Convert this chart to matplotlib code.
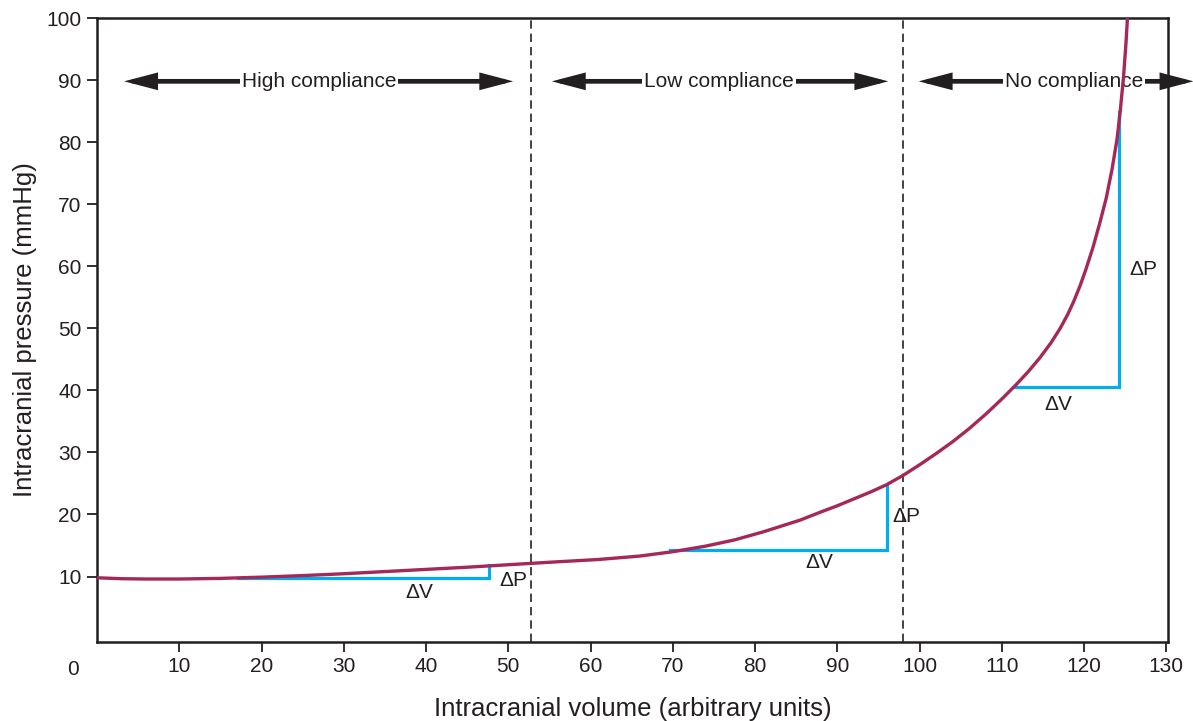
import matplotlib.pyplot as plt

plt.rcParams['font.family'] = ['Liberation Sans', 'DejaVu Sans']

# pressure-volume curve
vol = [0, 3, 6, 10, 15, 20, 25, 30, 35, 40, 45, 50, 55, 61, 66, 70, 74, 77.5, 81, 85.5,
       88, 90, 92, 94, 96, 98, 100, 102, 104, 106, 108, 110, 111.8, 113.2, 114.6, 116,
       117.1, 118, 118.7, 119.5, 120.2, 121.1, 121.9, 122.7, 123.4, 124.0, 124.4, 124.8,
       125.1, 125.3]
pres = [9.8, 9.65, 9.6, 9.6, 9.7, 9.9, 10.15, 10.45, 10.8, 11.15, 11.5, 11.9, 12.3, 12.75,
        13.3, 14.0, 14.9, 15.9, 17.2, 19.1, 20.4, 21.4, 22.5, 23.6, 24.8, 26.3, 28.0, 29.8,
        31.7, 33.8, 36.1, 38.6, 41.0, 43.0, 45.2, 47.7, 50.0, 52.2, 54.2, 56.8, 59.4, 63.1,
        66.9, 71.0, 75.6, 80.4, 85.0, 90.5, 96.0, 100.5]

# compliance zone boundaries
zone_bounds = [52.8, 98.0]
zone_names = ['High compliance', 'Low compliance', 'No compliance']
zone_arrows = [(3.3, 50.6), (55.3, 96.2), (99.9, 133.3)]
zone_text_x = [27.0, 75.6, 118.8]
arrow_y = 89.8

# delta triangles: (x start, x end, y low, y high)
steps = [(17.1, 47.6, 9.8, 11.9),
         (69.7, 96.0, 14.2, 24.6),
         (111.6, 124.3, 40.6, 84.9)]
dv_pos = [(39.2, 7.4), (87.8, 12.2), (116.9, 37.7)]
dp_pos = [(50.6, 9.3), (98.4, 19.6), (127.2, 59.4)]

fig = plt.figure(figsize=(11.93, 7.21), dpi=100)
ax = fig.add_axes([0.0813, 0.110, 0.8977, 0.865])

curve_col = '#a52858'
blue = '#00aeef'
ink = '#231f20'

for x0, x1, y0, y1 in steps:
    ax.plot([x0, x1, x1], [y0, y0, y1], color=blue, lw=2.3, zorder=2,
            solid_joinstyle='miter')

ax.plot(vol, pres, color=curve_col, lw=2.4, zorder=4, solid_capstyle='butt')

for xb in zone_bounds:
    ax.axvline(xb, color='#222222', lw=1.2, ls=(0, (5, 3)), zorder=1)

for (a0, a1), tx, name in zip(zone_arrows, zone_text_x, zone_names):
    ax.annotate('', xy=(a1, arrow_y), xytext=(a0, arrow_y),
                arrowprops=dict(arrowstyle='<|-|>,head_length=1.6,head_width=0.42',
                                color=ink, lw=3.4, shrinkA=0, shrinkB=0,
                                joinstyle='miter'),
                annotation_clip=False, zorder=3)
    ax.text(tx, arrow_y, name, ha='center', va='center', fontsize=15, color=ink,
            bbox=dict(facecolor='white', edgecolor='none', pad=1.5), zorder=3)

for x, y in dv_pos:
    ax.text(x, y, '\u0394V', ha='center', va='center', fontsize=15, color=ink)
for x, y in dp_pos:
    ax.text(x, y, '\u0394P', ha='center', va='center', fontsize=15, color=ink)

ax.set_xlim(0, 130.2)
ax.set_ylim(-0.5, 100)
ax.set_xticks(range(10, 131, 10))
ax.set_yticks(range(10, 101, 10))
ax.tick_params(direction='out', length=7, width=1.3, labelsize=15, colors=ink, pad=4)
for s in ax.spines.values():
    s.set_linewidth(1.8)
    s.set_color(ink)

ax.text(-2.9, -5, '0', ha='center', va='center', fontsize=15, color=ink, clip_on=False)

ax.set_xlabel('Intracranial volume (arbitrary units)', fontsize=18.5, color=ink, labelpad=15)
ax.set_ylabel('Intracranial pressure (mmHg)', fontsize=18.5, color=ink, labelpad=7)

fig.savefig('out.png', dpi=100)
